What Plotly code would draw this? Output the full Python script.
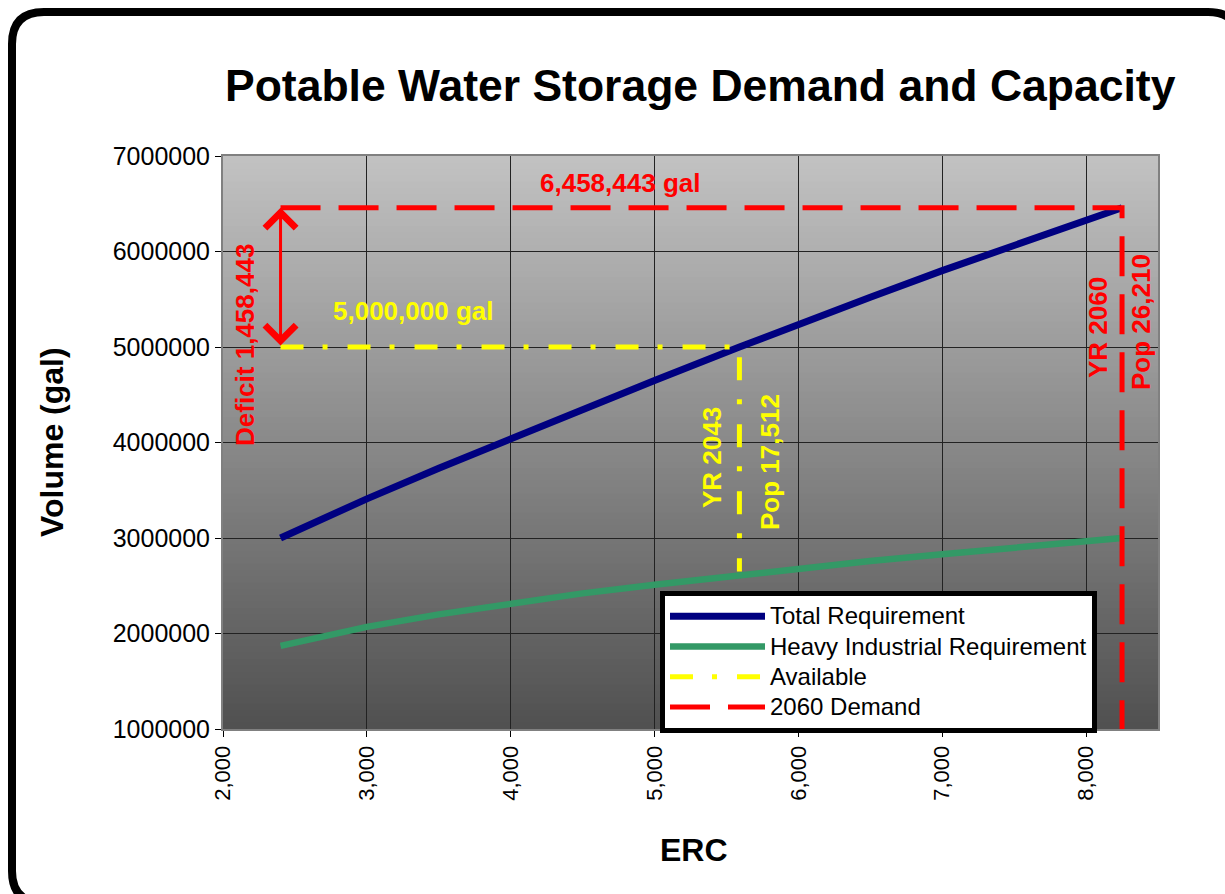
import plotly.graph_objects as go

# ---------------- data ----------------
erc = [2400, 3000, 3500, 4000, 4500, 5000, 5590, 6000, 6500, 7000, 7500, 8000, 8250]
total_req = [3000000, 3410000, 3730000, 4040000, 4350000, 4650000, 5000000,
             5240000, 5520000, 5800000, 6060000, 6310000, 6458443]
heavy_ind = [1870000, 2070000, 2200000, 2310000, 2420000, 2510000, 2610000,
             2680000, 2760000, 2830000, 2900000, 2960000, 3000000]
avail_x = [2400, 5590, 5590]
avail_y = [5000000, 5000000, 2650000]
demand_x = [2400, 8250, 8250]
demand_y = [6458443, 6458443, 1000000]
series_names = ["Total Requirement", "Heavy Industrial Requirement", "Available", "2060 Demand"]

# ---------------- layout geometry ----------------
W_FIG, H_FIG = 1225, 894
L, R, T, B = 223, 67, 156, 165
PW, PH = W_FIG - L - R, H_FIG - T - B
FONT = "Arial, Liberation Sans, sans-serif"


def px(x):
    return (x - L) / PW


def py(y):
    return (T + PH - y) / PH


def lname(s):
    return f'<span style="font-size:24px">{s}</span>'


fig = go.Figure()
fig.add_trace(go.Scatter(x=erc, y=total_req, mode="lines", name=lname(series_names[0]),
                         line=dict(color="#000080", width=7)))
fig.add_trace(go.Scatter(x=erc, y=heavy_ind, mode="lines", name=lname(series_names[1]),
                         line=dict(color="#339966", width=6.5)))
fig.add_trace(go.Scatter(x=avail_x, y=avail_y, mode="lines", name=lname(series_names[2]),
                         line=dict(color="#FFFF00", width=5, dash="23px,19px,5px,20px")))
fig.add_trace(go.Scatter(x=demand_x, y=demand_y, mode="lines", name=lname(series_names[3]),
                         line=dict(color="#FF0000", width=5, dash="40px,18px")))

shapes = []
# gradient background of plot area (stacked from bottom so no seams)
N = 90
top_c, bot_c = 194, 80
for i in range(N):
    c = round(top_c + (bot_c - top_c) * (i + 0.5) / N)
    shapes.append(dict(type="rect", xref="x domain", yref="y domain",
                       x0=0, x1=1, y0=0, y1=1 - i / N,
                       fillcolor=f"rgb({c},{c},{c})", line=dict(width=0), layer="below"))

# rounded outer frame
x0, y0, x1, y1, r = 12, 12, 1240, 903, 32
path = (f"M{px(x0 + r)},{py(y0)} L{px(x1 - r)},{py(y0)} Q{px(x1)},{py(y0)} {px(x1)},{py(y0 + r)} "
        f"L{px(x1)},{py(y1 - r)} Q{px(x1)},{py(y1)} {px(x1 - r)},{py(y1)} "
        f"L{px(x0 + r)},{py(y1)} Q{px(x0)},{py(y1)} {px(x0)},{py(y1 - r)} "
        f"L{px(x0)},{py(y0 + r)} Q{px(x0)},{py(y0)} {px(x0 + r)},{py(y0)} Z")
shapes.append(dict(type="path", xref="paper", yref="paper", path=path,
                   line=dict(color="black", width=8), fillcolor="rgba(0,0,0,0)"))


def label(text, x, y, size, color, angle=0):
    return dict(text=text, x=px(x), y=py(y), xref="paper", yref="paper",
                showarrow=False, textangle=angle, xanchor="center", yanchor="middle",
                font=dict(size=size, color=color, family=FONT))


annotations = [
    label("<b>Potable Water Storage Demand and Capacity</b>", 700, 85, 44.5, "black"),
    label("<b>Volume (gal)</b>", 52, 442, 32, "black", -90),
    label("<b>ERC</b>", 694, 850, 32, "black"),
    label("<b>6,458,443 gal</b>", 620, 183, 26, "#FF0000"),
    label("<b>5,000,000 gal</b>", 413, 311, 26, "#FFFF00"),
    label("<b>Deficit 1,458,443</b>", 245, 345, 26, "#FF0000", -90),
    label("<b>YR 2043</b>", 712, 458, 26, "#FFFF00", -90),
    label("<b>Pop 17,512</b>", 770, 462, 26, "#FFFF00", -90),
    label("<b>YR 2060</b>", 1098, 328, 26, "#FF0000", -90),
    label("<b>Pop 26,210</b>", 1141, 322, 26, "#FF0000", -90),
    # double-headed deficit arrow
    dict(x=erc[0], y=demand_y[0], ax=erc[0], ay=avail_y[0], xref="x", yref="y",
         axref="x", ayref="y", text="", showarrow=True, arrowhead=4, startarrowhead=4,
         arrowside="end+start", arrowsize=2, startarrowsize=2, arrowwidth=3,
         arrowcolor="#FF0000", standoff=0, startstandoff=0),
]

fig.update_layout(
    width=W_FIG, height=H_FIG,
    margin=dict(l=L, r=R, t=T, b=B, autoexpand=False),
    paper_bgcolor="white", plot_bgcolor="rgba(0,0,0,0)",
    font=dict(family=FONT, color="black", size=20),
    shapes=shapes, annotations=annotations,
    showlegend=True,
    legend=dict(x=px(660), y=py(591), xanchor="left", yanchor="top",
                bgcolor="white", bordercolor="black", borderwidth=5,
                font=dict(size=21, color="black", family=FONT),
                itemwidth=95, tracegroupgap=0, entrywidth=335),
)
fig.update_xaxes(range=[2000, 8500], dtick=1000, tick0=2000, tickformat=",",
                 tickangle=-90, ticks="outside", ticklen=6, tickcolor="black",
                 showgrid=True, gridcolor="#222222", gridwidth=1,
                 showline=True, linecolor="#808080", linewidth=2, mirror=True,
                 tickfont=dict(size=22, family=FONT, color="black"), zeroline=False)
fig.update_yaxes(range=[1000000, 7000000], dtick=1000000, tickformat="d",
                 ticks="outside", ticklen=6, tickcolor="black",
                 showgrid=True, gridcolor="#222222", gridwidth=1,
                 showline=True, linecolor="#808080", linewidth=2, mirror=True,
                 tickfont=dict(size=25, family=FONT, color="black"), zeroline=False)

fig.write_html("out.html", config={"displayModeBar": False},
               post_script="document.body.style.margin='0';")
